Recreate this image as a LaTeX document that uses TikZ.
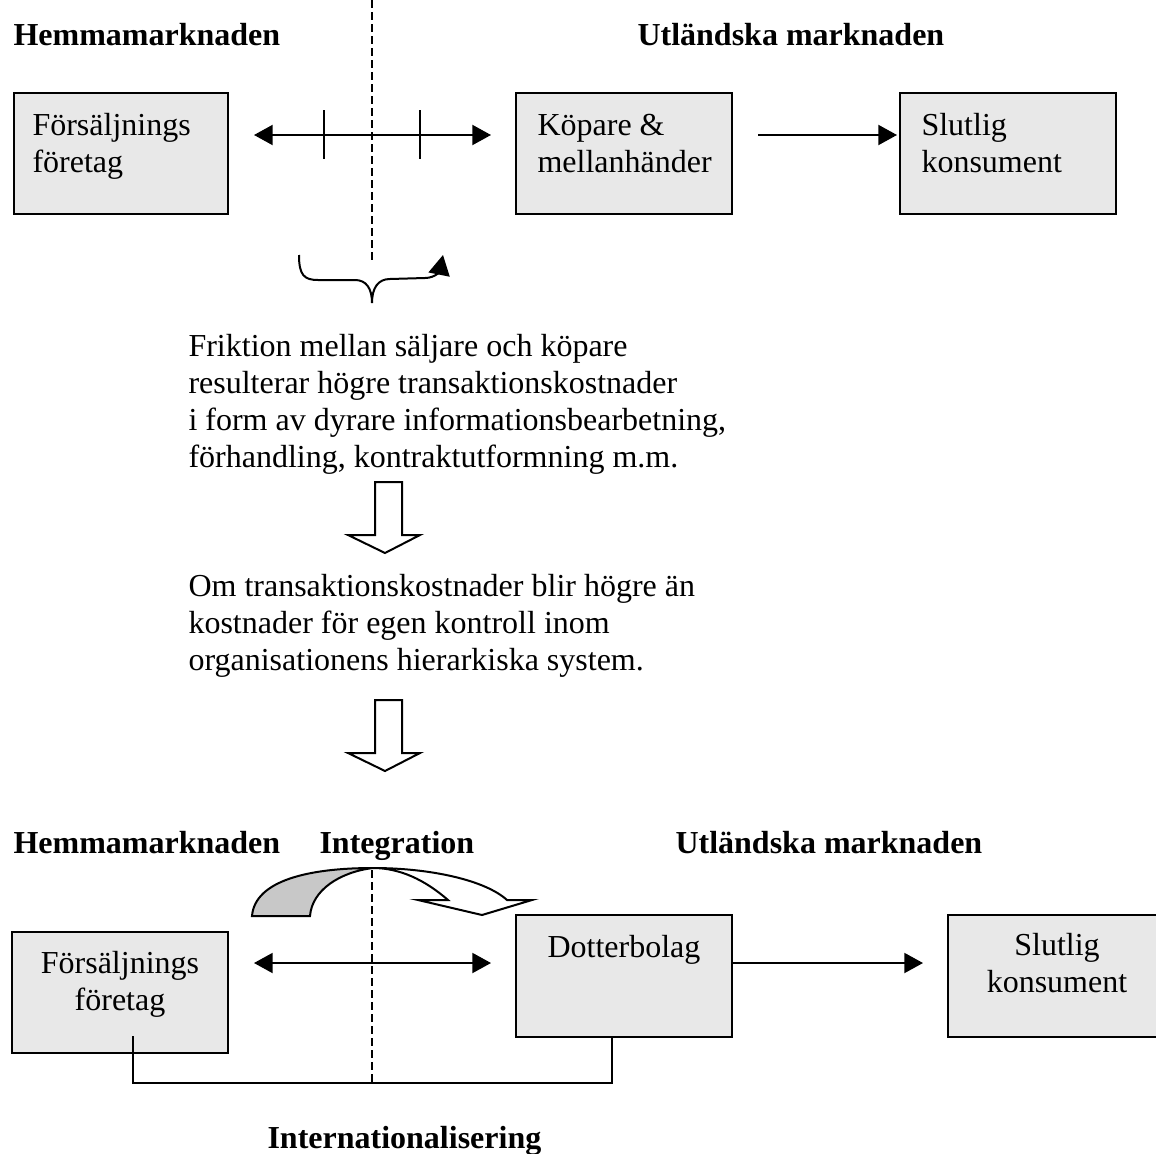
\documentclass[tikz,border=0pt]{standalone}
\usepackage{fontspec}
\setmainfont{Liberation Serif}
\usetikzlibrary{arrows.meta,calc}
\definecolor{boxgray}{RGB}{232,232,232}
\definecolor{backgray}{RGB}{200,200,200}

\begin{document}
\begin{tikzpicture}[x=0.375pt,y=-0.375pt,
  every node/.style={font=\fontsize{12}{13.76}\selectfont, inner sep=0pt},
  box/.style={draw, fill=boxgray, line width=0.75pt, minimum height=45.4pt},
  head/.style={anchor=base west, font=\fontsize{12}{13.76}\selectfont\bfseries},
  txt/.style={anchor=base west, align=left},
  ctxt/.style={anchor=base, align=center},
  flow/.style={line width=0.75pt, -{Triangle[length=7pt,width=7.5pt]}},
  both/.style={line width=0.75pt, {Triangle[length=7pt,width=7.5pt]}-{Triangle[length=7pt,width=7.5pt]}},
  border/.style={line width=0.75pt, dash pattern=on 3pt off 1.5pt},
  hollow/.style={line width=0.75pt, fill=white}]
\useasboundingbox (0,0) rectangle (1156,1153);

% before
\node[head] (hem1) at (13,45) {Hemmamarknaden};
\node[head] (utl1) at (637,45) {Utländska marknaden};
\draw[border] (372,0) -- (372,263);

\node[box, minimum width=80.25pt] (sale1) at (121,153.5) {};
\node[txt] (sale1txt) at (32,172) {Försäljnings\\företag};
\node[box, minimum width=81pt] (buyer) at (624,153.5) {};
\node[txt] (buyertxt) at (537,172) {Köpare \&\\mellanhänder};
\node[box, minimum width=81pt] (cons1) at (1008,153.5) {};
\node[txt] (cons1txt) at (921,172) {Slutlig\\konsument};

\draw[both] ($(sale1.east)+(25,-18.5)$) -- ($(buyer.west)+(-24,-18.5)$);
\draw[line width=0.75pt] (324,110) -- (324,159);
\draw[line width=0.75pt] (420,110) -- (420,159);
\draw[flow] ($(buyer.east)+(25,-18.5)$) -- ($(cons1.west)+(-2,-18.5)$);

% brace
\coordinate (brl) at (299,255);
\coordinate (brt) at (443,255);
\draw[line width=0.75pt, -{Triangle[length=7.5pt,width=8pt]}] (brl) .. controls (299,275) and (304,280) .. (318,280) -- (355,280) .. controls (366,280) and (372,288) .. (372,303) .. controls (372,288) and (378,279) .. (390,279) -- (425,278) .. controls (436,278) and (440,270) .. (brt);

\node[txt] (fric) at (188,467) {Friktion mellan säljare och köpare\\resulterar högre transaktionskostnader\\i form av dyrare informationsbearbetning,\\förhandling, kontraktutformning m.m.};
\draw[hollow] (375,482) -- (402,482) -- (402,535) -- (420,535) -- (385,553) -- (348,535) -- (375,535) -- cycle;
\node[txt] (cost) at (188,670) {Om transaktionskostnader blir högre än\\kostnader för egen kontroll inom\\organisationens hierarkiska system.};
\draw[hollow] (375,700) -- (402,700) -- (402,753) -- (420,753) -- (385,771) -- (348,753) -- (375,753) -- cycle;

% after
\node[head] (hem2) at (13,853) {Hemmamarknaden};
\node[head] (integ) at (319,853) {Integration};
\node[head] (utl2) at (675,853) {Utländska marknaden};
\draw[border] (372,870) -- (372,1083);

% curved arrow
\draw[line width=0.75pt, fill=backgray] (252,916) .. controls (255,880) and (310,868) .. (373,868) .. controls (340,872) and (312,890) .. (310,916) -- cycle;
\draw[hollow] (373,868) .. controls (430,868) and (485,880) .. (507,900) -- (532,900) -- (482,915) -- (418,900) -- (448,900) .. controls (425,880) and (400,868) .. (373,868) -- cycle;

\node[box, minimum width=81pt] (sale2) at (120,992.5) {};
\node[ctxt] (sale2txt) at (120,1010) {Försäljnings\\företag};
\node[box, minimum width=81pt] (subs) at (624,976) {};
\node[ctxt] (substxt) at (624,957) {Dotterbolag};
\node[box, minimum width=81pt] (cons2) at (1056,976) {};
\node[ctxt] (cons2txt) at (1057,992) {Slutlig\\konsument};

\draw[both] ($(sale2.east)+(25,-29.5)$) -- ($(subs.west)+(-24,-13)$);
\draw[flow] ($(subs.east)+(0,-13)$) -- ($(cons2.west)+(-24,-13)$);
\coordinate (low) at (372,1083);
\draw[line width=0.75pt] ($(sale2.south)+(13,-18)$) |- (low) -| ($(subs.south)+(-12,0)$);

\node[head] (inter) at (267,1148) {Internationalisering};
\end{tikzpicture}
\end{document}
